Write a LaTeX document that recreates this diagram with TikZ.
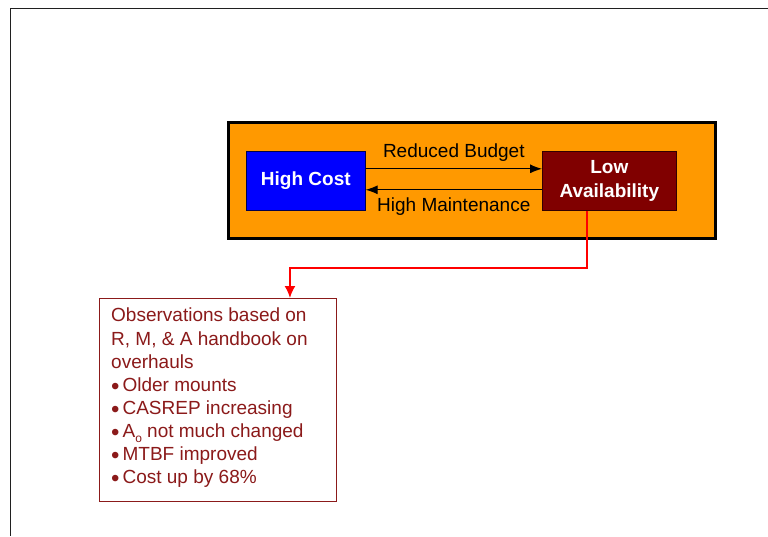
\documentclass[tikz,border=0pt]{standalone}
\usepackage{fontspec}
\setmainfont{Liberation Sans}
\usetikzlibrary{arrows.meta}
\definecolor{orangefill}{HTML}{FF9900}
\definecolor{bluefill}{HTML}{0000FF}
\definecolor{maroonfill}{HTML}{800000}
\definecolor{obsred}{HTML}{8B1A1A}
\definecolor{framegray}{HTML}{202020}
\newcommand{\obsdot}{{\fontsize{24}{23}\selectfont\raisebox{-3.2pt}{\textbullet}}\hspace{3pt}}
\newcommand{\subo}{\raisebox{-5pt}{\fontsize{12}{12}\selectfont o}}
\tikzset{
  x=1pt, y=1pt,
  outerbox/.style={draw=black, line width=3pt, fill=orangefill, minimum width=487pt, minimum height=116pt, inner sep=0pt, anchor=north west},
  costbox/.style={draw=black!70!blue, line width=0.6pt, fill=bluefill, text=white, font=\fontsize{19}{23}\selectfont\bfseries, minimum width=119pt, minimum height=59pt, inner sep=0pt, anchor=north west},
  availbox/.style={draw=black!60!maroonfill, line width=0.6pt, fill=maroonfill, text=white, font=\fontsize{19}{24}\selectfont\bfseries, align=center, minimum width=134pt, minimum height=59pt, inner sep=0pt, anchor=north west},
  flow/.style={draw=black, line width=1pt, -{Latex[length=12pt,width=9pt]}},
  flowlabel/.style={font=\fontsize{19}{22}\selectfont, text=black, inner sep=0pt},
  obsbox/.style={draw=obsred, line width=0.9pt, fill=white, minimum width=237pt, minimum height=203pt, inner sep=0pt, anchor=north west},
  obstext/.style={text=obsred, font=\fontsize{19}{23.1}\selectfont, align=left, inner sep=0pt, anchor=north west},
  redline/.style={draw=red, line width=1.8pt, -{Latex[length=12pt,width=11pt]}},
  frameline/.style={draw=framegray, line width=1pt}
}
\begin{document}
\begin{tikzpicture}
\useasboundingbox (0,0) rectangle (768,-536);
\fill[white] (0,0) rectangle (768,-536);
% frame
\coordinate (ftl) at (10.5,-8.5);
\coordinate (ftr) at (768,-8.5);
\coordinate (fbl) at (10.5,-536);
\draw[frameline] (ftr) -- (ftl) -- (fbl);
% orange box
\node[outerbox] (outer) at (227,-121) {};
\node[costbox] (cost) at (246,-151) {High Cost};
\node[availbox] (avail) at (542,-151) {Low\\Availability};
% arrows
\draw[flow] ([yshift=12pt]cost.east) -- node[flowlabel, above=7pt] (rb) {Reduced Budget} ([yshift=12pt]avail.west);
\draw[flow] ([yshift=-9pt]avail.west) -- node[flowlabel, below=7pt] (hm) {High Maintenance} ([yshift=-9pt]cost.east);
% observations
\node[obsbox] (obs) at (99,-298) {};
\node[obstext] (obst) at (111,-308) {Observations based on\\R, M, \& A handbook on\\overhauls\\\obsdot Older mounts\\\obsdot CASREP increasing\\\obsdot A\subo{} not much changed\\\obsdot MTBF improved\\\obsdot Cost up by 68\%};
% red connector
\coordinate (turn) at ([xshift=-22pt,yshift=-57pt]avail.south);
\draw[redline] ([xshift=-22pt]avail.south) -- (turn) -| ([xshift=72pt]obs.north);
\end{tikzpicture}
\end{document}
